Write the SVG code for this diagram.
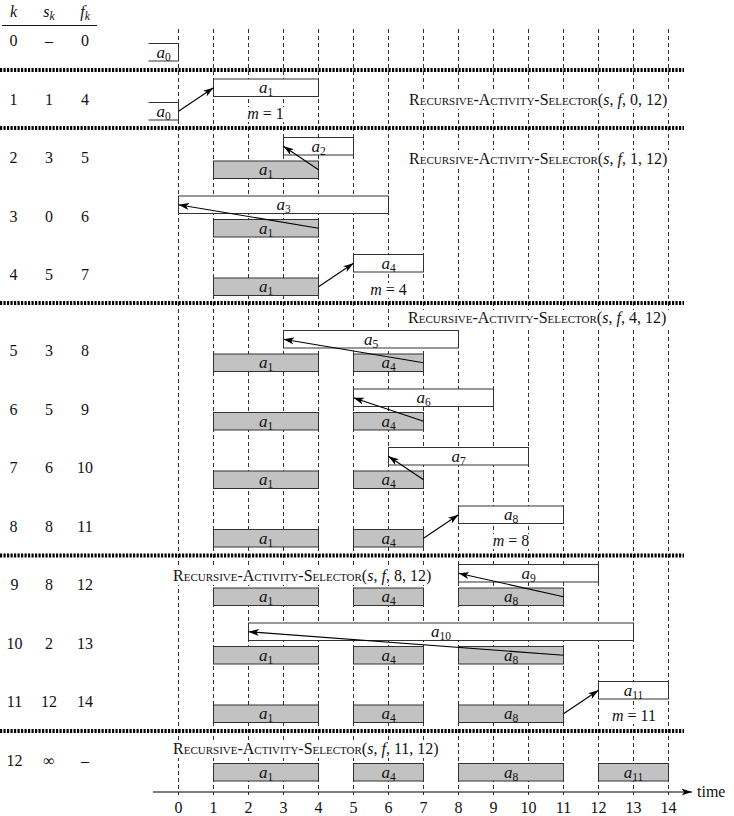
<svg xmlns="http://www.w3.org/2000/svg" width="734" height="816" viewBox="0 0 734 816">
<style>
text{font-family:"Liberation Serif","Times New Roman",serif;font-size:16px;fill:#111}
.it{font-style:italic;font-variant:normal}
.sub{font-size:11.5px}
.lab{font-size:17px}
.c{text-anchor:middle}
.ras{font-size:16px;font-variant:small-caps}
.grid line{stroke:#333;stroke-width:1;stroke-dasharray:4 3}
.sep{stroke:#000;stroke-width:4;stroke-dasharray:2.2 1.3}
.w{fill:#fff;stroke:#333;stroke-width:1}
.g{fill:#c2c2c2;stroke:#333;stroke-width:1}
.bg{fill:#fff}
.conn line{stroke:#000;stroke-width:1.1;marker-end:url(#ah)}
</style>
<defs>
<marker id="ah" markerUnits="userSpaceOnUse" markerWidth="11" markerHeight="8" refX="10.5" refY="4" orient="auto">
<path d="M0,0.5 L10.5,4 L0,7.5 L2.8,4 Z" fill="#000"/>
</marker>
</defs>
<rect width="734" height="816" fill="#fff"/>

<!-- table header -->
<g id="table">
<text class="it c" x="13.5" y="17">k</text>
<text class="c" x="49" y="17"><tspan class="it">s</tspan><tspan class="sub it" dy="3">k</tspan></text>
<text class="c" x="85" y="17"><tspan class="it">f</tspan><tspan class="sub it" dy="3">k</tspan></text>
<line x1="2" y1="25.5" x2="97" y2="25.5" stroke="#111" stroke-width="1"/>
<text class="c" x="13.5" y="46">0</text><text class="c" x="49" y="46">–</text><text class="c" x="85" y="46">0</text>
<text class="c" x="13.5" y="104.5">1</text><text class="c" x="49" y="104.5">1</text><text class="c" x="85" y="104.5">4</text>
<text class="c" x="13.5" y="163">2</text><text class="c" x="49" y="163">3</text><text class="c" x="85" y="163">5</text>
<text class="c" x="13.5" y="221.5">3</text><text class="c" x="49" y="221.5">0</text><text class="c" x="85" y="221.5">6</text>
<text class="c" x="13.5" y="280">4</text><text class="c" x="49" y="280">5</text><text class="c" x="85" y="280">7</text>
<text class="c" x="13.5" y="356">5</text><text class="c" x="49" y="356">3</text><text class="c" x="85" y="356">8</text>
<text class="c" x="13.5" y="414.5">6</text><text class="c" x="49" y="414.5">5</text><text class="c" x="85" y="414.5">9</text>
<text class="c" x="13.5" y="473">7</text><text class="c" x="49" y="473">6</text><text class="c" x="85" y="473">10</text>
<text class="c" x="13.5" y="531.5">8</text><text class="c" x="49" y="531.5">8</text><text class="c" x="85" y="531.5">11</text>
<text class="c" x="14.5" y="590">9</text><text class="c" x="49" y="590">8</text><text class="c" x="85" y="590">12</text>
<text class="c" x="14.5" y="648.5">10</text><text class="c" x="49" y="648.5">2</text><text class="c" x="85" y="648.5">13</text>
<text class="c" x="14.5" y="707">11</text><text class="c" x="49" y="707">12</text><text class="c" x="85" y="707">14</text>
<text class="c" x="14.5" y="765.5">12</text><text class="c" x="49" y="765.5">∞</text><text class="c" x="85" y="765.5">–</text>
</g>

<!-- time grid -->
<g class="grid">
<line x1="178.5" y1="29" x2="178.5" y2="795"/>
<line x1="213.5" y1="29" x2="213.5" y2="795"/>
<line x1="248.5" y1="29" x2="248.5" y2="795"/>
<line x1="283.5" y1="29" x2="283.5" y2="795"/>
<line x1="318.5" y1="29" x2="318.5" y2="795"/>
<line x1="353.5" y1="29" x2="353.5" y2="795"/>
<line x1="388.5" y1="29" x2="388.5" y2="795"/>
<line x1="423.5" y1="29" x2="423.5" y2="795"/>
<line x1="458.5" y1="29" x2="458.5" y2="795"/>
<line x1="493.5" y1="29" x2="493.5" y2="795"/>
<line x1="528.5" y1="29" x2="528.5" y2="795"/>
<line x1="563.5" y1="29" x2="563.5" y2="795"/>
<line x1="598.5" y1="29" x2="598.5" y2="795"/>
<line x1="633.5" y1="29" x2="633.5" y2="795"/>
<line x1="668.5" y1="29" x2="668.5" y2="795"/>
</g>

<!-- separators -->
<g id="separators">
<line class="sep" x1="0" y1="70" x2="684" y2="70"/>
<line class="sep" x1="0" y1="128" x2="684" y2="128"/>
<line class="sep" x1="0" y1="303" x2="684" y2="303"/>
<line class="sep" x1="0" y1="555.5" x2="684" y2="555.5"/>
<line class="sep" x1="0" y1="731" x2="684" y2="731"/>
</g>

<!-- call labels -->
<g id="calls">
<rect class="bg" x="406" y="92" width="270" height="17"/>
<text class="ras" x="409" y="105">Recursive-Activity-Selector(<tspan class="it">s</tspan>, <tspan class="it">f</tspan>, 0, 12)</text>
<rect class="bg" x="406" y="150" width="270" height="17"/>
<text class="ras" x="409" y="163.5">Recursive-Activity-Selector(<tspan class="it">s</tspan>, <tspan class="it">f</tspan>, 1, 12)</text>
<rect class="bg" x="405" y="310" width="270" height="17"/>
<text class="ras" x="408" y="323">Recursive-Activity-Selector(<tspan class="it">s</tspan>, <tspan class="it">f</tspan>, 4, 12)</text>
<rect class="bg" x="170" y="568" width="270" height="17"/>
<text class="ras" x="173" y="581">Recursive-Activity-Selector(<tspan class="it">s</tspan>, <tspan class="it">f</tspan>, 8, 12)</text>
<rect class="bg" x="170" y="741" width="280" height="17"/>
<text class="ras" x="173" y="754">Recursive-Activity-Selector(<tspan class="it">s</tspan>, <tspan class="it">f</tspan>, 11, 12)</text>
</g>

<!-- m labels -->
<g id="mlabels">
<rect class="bg" x="243" y="107" width="45" height="15"/>
<text class="c" x="265.5" y="119"><tspan class="it">m</tspan> = 1</text>
<rect class="bg" x="366" y="283" width="45" height="15"/>
<text class="c" x="388.5" y="295"><tspan class="it">m</tspan> = 4</text>
<rect class="bg" x="488" y="534" width="45" height="15"/>
<text class="c" x="511" y="546"><tspan class="it">m</tspan> = 8</text>
<rect class="bg" x="608" y="709" width="53" height="15"/>
<text class="c" x="634" y="721"><tspan class="it">m</tspan> = 11</text>
</g>

<!-- row 0 -->
<g id="r0-a0"><path d="M148.5,43.5 H178.5 V61 H148.5" fill="#fff" stroke="#333"/><text class="lab c" x="163.5" y="57.5"><tspan class="it">a</tspan><tspan class="sub" dy="3">0</tspan></text></g>
<!-- row 1 -->
<g id="r1-a0"><path d="M148.5,102.5 H178.5 V120 H148.5" fill="#fff" stroke="#333"/><text class="lab c" x="163.5" y="116.5"><tspan class="it">a</tspan><tspan class="sub" dy="3">0</tspan></text></g>
<g id="r1-a1"><rect class="w" x="213.5" y="79" width="105" height="17.5"/><text class="lab c" x="266" y="93"><tspan class="it">a</tspan><tspan class="sub" dy="3">1</tspan></text></g>
<!-- row 2 -->
<g id="r2-a2"><rect class="w" x="283.5" y="137.5" width="70" height="17.5"/><text class="lab c" x="318.5" y="151.5"><tspan class="it">a</tspan><tspan class="sub" dy="3">2</tspan></text></g>
<g id="r2-a1"><rect class="g" x="213.5" y="161" width="105" height="17.5"/><text class="lab c" x="266" y="175"><tspan class="it">a</tspan><tspan class="sub" dy="3">1</tspan></text></g>
<!-- row 3 -->
<g id="r3-a3"><rect class="w" x="178.5" y="196" width="210" height="17.5"/><text class="lab c" x="283.5" y="210"><tspan class="it">a</tspan><tspan class="sub" dy="3">3</tspan></text></g>
<g id="r3-a1"><rect class="g" x="213.5" y="219.5" width="105" height="17.5"/><text class="lab c" x="266" y="233.5"><tspan class="it">a</tspan><tspan class="sub" dy="3">1</tspan></text></g>
<!-- row 4 -->
<g id="r4-a4"><rect class="w" x="353.5" y="254.5" width="70" height="17.5"/><text class="lab c" x="388.5" y="268.5"><tspan class="it">a</tspan><tspan class="sub" dy="3">4</tspan></text></g>
<g id="r4-a1"><rect class="g" x="213.5" y="278" width="105" height="17.5"/><text class="lab c" x="266" y="292"><tspan class="it">a</tspan><tspan class="sub" dy="3">1</tspan></text></g>
<!-- row 5 -->
<g id="r5-a5"><rect class="w" x="283.5" y="330.5" width="175" height="17.5"/><text class="lab c" x="371" y="344.5"><tspan class="it">a</tspan><tspan class="sub" dy="3">5</tspan></text></g>
<g id="r5-a1"><rect class="g" x="213.5" y="354" width="105" height="17.5"/><text class="lab c" x="266" y="368"><tspan class="it">a</tspan><tspan class="sub" dy="3">1</tspan></text></g>
<g id="r5-a4"><rect class="g" x="353.5" y="354" width="70" height="17.5"/><text class="lab c" x="388.5" y="368"><tspan class="it">a</tspan><tspan class="sub" dy="3">4</tspan></text></g>
<!-- row 6 -->
<g id="r6-a6"><rect class="w" x="353.5" y="389" width="140" height="17.5"/><text class="lab c" x="423.5" y="403"><tspan class="it">a</tspan><tspan class="sub" dy="3">6</tspan></text></g>
<g id="r6-a1"><rect class="g" x="213.5" y="412.5" width="105" height="17.5"/><text class="lab c" x="266" y="426.5"><tspan class="it">a</tspan><tspan class="sub" dy="3">1</tspan></text></g>
<g id="r6-a4"><rect class="g" x="353.5" y="412.5" width="70" height="17.5"/><text class="lab c" x="388.5" y="426.5"><tspan class="it">a</tspan><tspan class="sub" dy="3">4</tspan></text></g>
<!-- row 7 -->
<g id="r7-a7"><rect class="w" x="388.5" y="447.5" width="140" height="17.5"/><text class="lab c" x="458.5" y="461.5"><tspan class="it">a</tspan><tspan class="sub" dy="3">7</tspan></text></g>
<g id="r7-a1"><rect class="g" x="213.5" y="471" width="105" height="17.5"/><text class="lab c" x="266" y="485"><tspan class="it">a</tspan><tspan class="sub" dy="3">1</tspan></text></g>
<g id="r7-a4"><rect class="g" x="353.5" y="471" width="70" height="17.5"/><text class="lab c" x="388.5" y="485"><tspan class="it">a</tspan><tspan class="sub" dy="3">4</tspan></text></g>
<!-- row 8 -->
<g id="r8-a8"><rect class="w" x="458.5" y="506" width="105" height="17.5"/><text class="lab c" x="511" y="520"><tspan class="it">a</tspan><tspan class="sub" dy="3">8</tspan></text></g>
<g id="r8-a1"><rect class="g" x="213.5" y="529.5" width="105" height="17.5"/><text class="lab c" x="266" y="543.5"><tspan class="it">a</tspan><tspan class="sub" dy="3">1</tspan></text></g>
<g id="r8-a4"><rect class="g" x="353.5" y="529.5" width="70" height="17.5"/><text class="lab c" x="388.5" y="543.5"><tspan class="it">a</tspan><tspan class="sub" dy="3">4</tspan></text></g>
<!-- row 9 -->
<g id="r9-a9"><rect class="w" x="458.5" y="564.5" width="140" height="17.5"/><text class="lab c" x="528.5" y="578.5"><tspan class="it">a</tspan><tspan class="sub" dy="3">9</tspan></text></g>
<g id="r9-a1"><rect class="g" x="213.5" y="588" width="105" height="17.5"/><text class="lab c" x="266" y="602"><tspan class="it">a</tspan><tspan class="sub" dy="3">1</tspan></text></g>
<g id="r9-a4"><rect class="g" x="353.5" y="588" width="70" height="17.5"/><text class="lab c" x="388.5" y="602"><tspan class="it">a</tspan><tspan class="sub" dy="3">4</tspan></text></g>
<g id="r9-a8"><rect class="g" x="458.5" y="588" width="105" height="17.5"/><text class="lab c" x="511" y="602"><tspan class="it">a</tspan><tspan class="sub" dy="3">8</tspan></text></g>
<!-- row 10 -->
<g id="r10-a10"><rect class="w" x="248.5" y="623" width="385" height="17.5"/><text class="lab c" x="441" y="637"><tspan class="it">a</tspan><tspan class="sub" dy="3">10</tspan></text></g>
<g id="r10-a1"><rect class="g" x="213.5" y="646.5" width="105" height="17.5"/><text class="lab c" x="266" y="660.5"><tspan class="it">a</tspan><tspan class="sub" dy="3">1</tspan></text></g>
<g id="r10-a4"><rect class="g" x="353.5" y="646.5" width="70" height="17.5"/><text class="lab c" x="388.5" y="660.5"><tspan class="it">a</tspan><tspan class="sub" dy="3">4</tspan></text></g>
<g id="r10-a8"><rect class="g" x="458.5" y="646.5" width="105" height="17.5"/><text class="lab c" x="511" y="660.5"><tspan class="it">a</tspan><tspan class="sub" dy="3">8</tspan></text></g>
<!-- row 11 -->
<g id="r11-a11"><rect class="w" x="598.5" y="681.5" width="70" height="17.5"/><text class="lab c" x="633.5" y="695.5"><tspan class="it">a</tspan><tspan class="sub" dy="3">11</tspan></text></g>
<g id="r11-a1"><rect class="g" x="213.5" y="705" width="105" height="17.5"/><text class="lab c" x="266" y="719"><tspan class="it">a</tspan><tspan class="sub" dy="3">1</tspan></text></g>
<g id="r11-a4"><rect class="g" x="353.5" y="705" width="70" height="17.5"/><text class="lab c" x="388.5" y="719"><tspan class="it">a</tspan><tspan class="sub" dy="3">4</tspan></text></g>
<g id="r11-a8"><rect class="g" x="458.5" y="705" width="105" height="17.5"/><text class="lab c" x="511" y="719"><tspan class="it">a</tspan><tspan class="sub" dy="3">8</tspan></text></g>
<!-- row 12 -->
<g id="r12-a1"><rect class="g" x="213.5" y="763.5" width="105" height="17.5"/><text class="lab c" x="266" y="777.5"><tspan class="it">a</tspan><tspan class="sub" dy="3">1</tspan></text></g>
<g id="r12-a4"><rect class="g" x="353.5" y="763.5" width="70" height="17.5"/><text class="lab c" x="388.5" y="777.5"><tspan class="it">a</tspan><tspan class="sub" dy="3">4</tspan></text></g>
<g id="r12-a8"><rect class="g" x="458.5" y="763.5" width="105" height="17.5"/><text class="lab c" x="511" y="777.5"><tspan class="it">a</tspan><tspan class="sub" dy="3">8</tspan></text></g>
<g id="r12-a11"><rect class="g" x="598.5" y="763.5" width="70" height="17.5"/><text class="lab c" x="633.5" y="777.5"><tspan class="it">a</tspan><tspan class="sub" dy="3">11</tspan></text></g>

<!-- connectors -->
<g id="connectors" class="conn">
<line x1="178.5" y1="111.25" x2="213.5" y2="87.75"/>
<line x1="318.5" y1="169.75" x2="283.5" y2="146.25"/>
<line x1="318.5" y1="228.25" x2="178.5" y2="204.75"/>
<line x1="318.5" y1="286.75" x2="353.5" y2="263.25"/>
<line x1="423.5" y1="362.75" x2="283.5" y2="339.25"/>
<line x1="423.5" y1="421.25" x2="353.5" y2="397.75"/>
<line x1="423.5" y1="479.75" x2="388.5" y2="456.25"/>
<line x1="423.5" y1="538.25" x2="458.5" y2="514.75"/>
<line x1="563.5" y1="596.75" x2="458.5" y2="573.25"/>
<line x1="563.5" y1="655.25" x2="248.5" y2="631.75"/>
<line x1="563.5" y1="713.75" x2="598.5" y2="690.25"/>
</g>

<!-- time axis -->
<g id="axis">
<line x1="153" y1="792" x2="692" y2="792" stroke="#000" stroke-width="1.1" marker-end="url(#ah)"/>
<text x="697" y="797">time</text>
<text class="c" x="178.5" y="813">0</text>
<text class="c" x="213.5" y="813">1</text>
<text class="c" x="248.5" y="813">2</text>
<text class="c" x="283.5" y="813">3</text>
<text class="c" x="318.5" y="813">4</text>
<text class="c" x="353.5" y="813">5</text>
<text class="c" x="388.5" y="813">6</text>
<text class="c" x="423.5" y="813">7</text>
<text class="c" x="458.5" y="813">8</text>
<text class="c" x="493.5" y="813">9</text>
<text class="c" x="528.5" y="813">10</text>
<text class="c" x="563.5" y="813">11</text>
<text class="c" x="598.5" y="813">12</text>
<text class="c" x="633.5" y="813">13</text>
<text class="c" x="668.5" y="813">14</text>
</g>
</svg>
